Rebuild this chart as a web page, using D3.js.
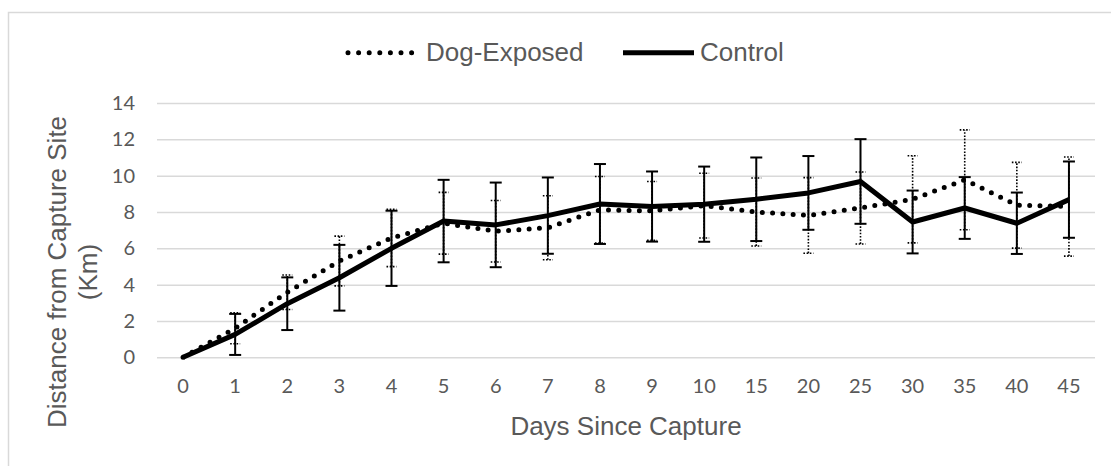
<!DOCTYPE html>
<html>
<head>
<meta charset="utf-8">
<script src="https://cdn.jsdelivr.net/npm/d3@7"></script>
<style>
  body { margin: 0; background: #fff; }
  svg { display: block; }
</style>
</head>
<body>
<svg id="chart"></svg>
<script>
// Values
const days = ["0", "1", "2", "3", "4", "5", "6", "7", "8", "9", "10", "15", "20", "25", "30", "35", "40", "45"];
const dogMean = [0, 1.6, 3.58, 5.3, 6.57, 7.38, 6.94, 7.13, 8.12, 8.06, 8.35, 8.0, 7.81, 8.22, 8.7, 9.77, 8.37, 8.3];
const dogErr = [0, 0.85, 0.95, 1.37, 1.58, 1.7, 1.69, 1.76, 1.83, 1.62, 1.78, 1.87, 2.08, 1.98, 2.4, 2.75, 2.36, 2.73];
const ctrlMean = [0, 1.26, 2.95, 4.38, 6.0, 7.5, 7.29, 7.8, 8.44, 8.3, 8.43, 8.7, 9.05, 9.68, 7.45, 8.22, 7.38, 8.68];
const ctrlErr = [0, 1.13, 1.45, 1.81, 2.07, 2.27, 2.33, 2.1, 2.2, 1.93, 2.07, 2.3, 2.03, 2.33, 1.73, 1.7, 1.69, 2.1];
const yTicks = [0, 2, 4, 6, 8, 10, 12, 14];

const W = 1111, H = 466;
const plot = { left: 157, right: 1095, top: 103, bottom: 357.3 };
const textColor = "#595959";
const gridColor = "#d9d9d9";

const svg = d3.select("#chart")
  .attr("width", W)
  .attr("height", H);

// outer chart border
svg.append("rect")
  .attr("x", 8.5).attr("y", 12.5)
  .attr("width", W).attr("height", H)
  .attr("fill", "none")
  .attr("stroke", gridColor)
  .attr("stroke-width", 1.5);

// Scales
const x = d3.scaleBand()
  .domain(days)
  .range([plot.left, plot.right]);
const cx = d => x(d) + x.bandwidth() / 2;

const y = d3.scaleLinear()
  .domain([0, 14])
  .range([plot.bottom, plot.top]);

// Y axis with gridlines
const yAxis = svg.append("g")
  .attr("transform", `translate(${plot.left},0)`)
  .call(d3.axisLeft(y).tickValues(yTicks).tickSize(-(plot.right - plot.left)).tickPadding(22));
yAxis.select(".domain").remove();
yAxis.selectAll(".tick line")
  .attr("stroke", gridColor)
  .attr("stroke-width", 1.5);
yAxis.selectAll(".tick text")
  .attr("fill", textColor)
  .style("font-family", "Lato, 'Open Sans', sans-serif")
  .style("font-size", "20px");

// X axis
const xAxis = svg.append("g")
  .attr("transform", `translate(0,${plot.bottom})`)
  .call(d3.axisBottom(x).tickSize(0).tickPadding(22));
xAxis.select(".domain").remove();
xAxis.selectAll(".tick text")
  .attr("fill", textColor)
  .style("font-family", "Lato, 'Open Sans', sans-serif")
  .style("font-size", "20px");

// Axis titles
svg.append("text")
  .attr("x", (plot.left + plot.right) / 2)
  .attr("y", 435)
  .attr("text-anchor", "middle")
  .attr("fill", textColor)
  .style("font-family", "'Liberation Sans', Arial, sans-serif")
  .style("font-size", "26px")
  .text("Days Since Capture");

const yTitle = svg.append("text")
  .attr("transform", "translate(66,272) rotate(-90)")
  .attr("text-anchor", "middle")
  .attr("fill", textColor)
  .style("font-family", "'Liberation Sans', Arial, sans-serif")
  .style("font-size", "26px");
yTitle.append("tspan").attr("x", 0).attr("dy", 0).text("Distance from Capture Site");
yTitle.append("tspan").attr("x", 0).attr("dy", 31).text("(Km)");

// Lines
const line = vals => d3.line()
  .x((d, i) => cx(days[i]))
  .y(d => y(d))(vals);

svg.append("path")
  .attr("d", line(dogMean))
  .attr("fill", "none")
  .attr("stroke", "#000")
  .attr("stroke-width", 5)
  .attr("stroke-linecap", "round")
  .attr("stroke-dasharray", "0 10.3");

svg.append("path")
  .attr("d", line(ctrlMean))
  .attr("fill", "none")
  .attr("stroke", "#000")
  .attr("stroke-width", 5)
  .attr("stroke-linejoin", "round");

// Error bars
function errorBars(mean, err, cls, capW, dash) {
  const data = days.map((d, i) => ({ d, m: mean[i], e: err[i] })).filter(p => p.e > 0);
  const g = svg.append("g").attr("class", cls)
    .attr("stroke", "#000")
    .attr("stroke-width", dash ? 1.6 : 2)
    .attr("stroke-dasharray", dash);
  g.selectAll("line.v").data(data).enter().append("line")
    .attr("class", "v")
    .attr("x1", p => cx(p.d)).attr("x2", p => cx(p.d))
    .attr("y1", p => y(p.m - p.e)).attr("y2", p => y(p.m + p.e));
  [-1, 1].forEach(s => {
    g.selectAll("line.c" + (s + 1)).data(data).enter().append("line")
      .attr("class", "c" + (s + 1))
      .attr("x1", p => cx(p.d) - capW / 2).attr("x2", p => cx(p.d) + capW / 2)
      .attr("y1", p => y(p.m + s * p.e)).attr("y2", p => y(p.m + s * p.e));
  });
}
errorBars(dogMean, dogErr, "err-dog", 10, "1.6 1.6");
errorBars(ctrlMean, ctrlErr, "err-ctrl", 12, null);

// Legend
const legY = 52.7;
const legend = svg.append("g");
legend.append("line")
  .attr("x1", 348).attr("x2", 412)
  .attr("y1", legY).attr("y2", legY)
  .attr("stroke", "#000")
  .attr("stroke-width", 5)
  .attr("stroke-linecap", "round")
  .attr("stroke-dasharray", "0 10.6");
legend.append("text")
  .attr("x", 426).attr("y", 61)
  .attr("fill", textColor)
  .style("font-family", "'Liberation Sans', Arial, sans-serif")
  .style("font-size", "26px")
  .text("Dog-Exposed");
legend.append("line")
  .attr("x1", 623).attr("x2", 694)
  .attr("y1", legY).attr("y2", legY)
  .attr("stroke", "#000")
  .attr("stroke-width", 5);
legend.append("text")
  .attr("x", 700).attr("y", 61)
  .attr("fill", textColor)
  .style("font-family", "'Liberation Sans', Arial, sans-serif")
  .style("font-size", "26px")
  .text("Control");
</script>
</body>
</html>
